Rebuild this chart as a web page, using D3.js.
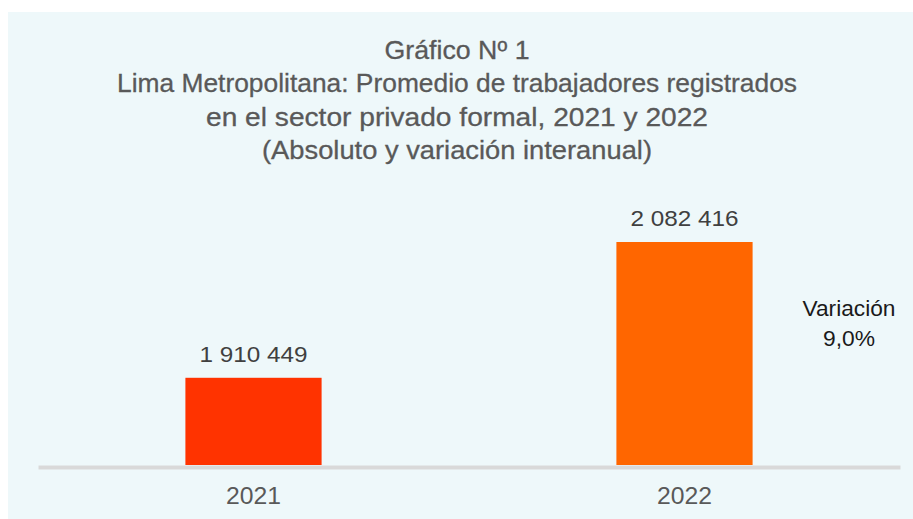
<!DOCTYPE html>
<html>
<head>
<meta charset="utf-8">
<script src="https://cdn.jsdelivr.net/npm/d3@7"></script>
<style>
    html, body { margin: 0; padding: 0; background: #ffffff; }
</style>
</head>
<body>
<script>
// chart data
const years = ['2021', '2022'];
const workers = [1910449, 2082416];
const barColors = ['#ff3300', '#ff6600'];
const titleLines = [
    'Gráfico Nº 1',
    'Lima Metropolitana: Promedio de trabajadores registrados',
    'en el sector privado formal, 2021 y 2022',
    '(Absoluto y variación interanual)'
];
const variationLabel = ['Variación', '9,0%'];
const yDomain = [1800000, 2100000];

const width = 913;
const height = 519;

const svg = d3.select('body')
    .append('svg')
    .attr('width', width)
    .attr('height', height);

function setBackground(svg) {
    svg.append('rect')
        .attr('x', 8)
        .attr('y', 12)
        .attr('width', width - 8)
        .attr('height', height - 12)
        .attr('fill', '#eef8fa');
}

function fmt(v) {
    // thousands separated by a space
    return d3.format(',')(v).replace(/,/g, ' ');
}

// fit a text element to a measured width from the reference
function fitText(sel, w) {
    sel.attr('textLength', w).attr('lengthAdjust', 'spacingAndGlyphs');
}

setBackground(svg);

// title
const titleY = [59, 92, 125.5, 159];
const titleW = [145, 680, 502, 390];
svg.selectAll('.title-line')
    .data(titleLines)
    .enter()
    .append('text')
    .attr('class', 'title-line')
    .attr('x', 457)
    .attr('y', (d, i) => titleY[i])
    .attr('text-anchor', 'middle')
    .style('font-family', 'Liberation Sans, Arial, sans-serif')
    .style('font-size', '26px')
    .attr('fill', '#595959')
    .attr('stroke', '#595959')
    .attr('stroke-width', 0.3)
    .text(d => d)
    .each(function(d, i) { fitText(d3.select(this), titleW[i]); });

const xScale = d3.scaleBand()
    .domain(years)
    .range([38, 900])
    .paddingInner(0.684)
    .paddingOuter(0.342);

const yScale = d3.scaleLinear()
    .domain(yDomain)
    .range([465, 465 - 300000 * 223 / 282416]);

const chart = svg.append('g').attr('id', 'chart-area');

chart.selectAll('.bar')
    .data(years)
    .enter()
    .append('rect')
    .attr('class', 'bar')
    .attr('x', d => xScale(d))
    .attr('y', (d, i) => yScale(workers[i]))
    .attr('width', xScale.bandwidth())
    .attr('height', (d, i) => yScale(yDomain[0]) - yScale(workers[i]))
    .attr('fill', (d, i) => barColors[i]);

// baseline
const xAxis = d3.axisBottom(xScale).tickSize(0).tickPadding(20);
chart.append('g')
    .attr('id', 'x-axis')
    .attr('transform', 'translate(0,467)')
    .call(xAxis);

d3.select('#x-axis .domain')
    .attr('stroke', '#d9d9d9')
    .attr('stroke-width', 4);

d3.selectAll('#x-axis text')
    .style('font-family', 'Liberation Sans, Arial, sans-serif')
    .style('font-size', '24px')
    .attr('fill', '#595959')
    .attr('dy', null)
    .attr('y', 37)
    .each(function() { fitText(d3.select(this), 55); });

// value labels
chart.selectAll('.value-label')
    .data(years)
    .enter()
    .append('text')
    .attr('class', 'value-label')
    .attr('x', d => xScale(d) + xScale.bandwidth() / 2)
    .attr('y', (d, i) => yScale(workers[i]) - 16)
    .attr('text-anchor', 'middle')
    .style('font-family', 'Liberation Sans, Arial, sans-serif')
    .style('font-size', '22px')
    .attr('fill', '#404040')
    .text((d, i) => fmt(workers[i]))
    .each(function() { fitText(d3.select(this), 108); });

// variation note
svg.selectAll('.variation')
    .data(variationLabel)
    .enter()
    .append('text')
    .attr('class', 'variation')
    .attr('x', 849)
    .attr('y', (d, i) => 316 + i * 30)
    .attr('text-anchor', 'middle')
    .style('font-family', 'Liberation Sans, Arial, sans-serif')
    .style('font-size', '22px')
    .attr('fill', '#1a1a1a')
    .text(d => d)
    .each(function(d, i) { fitText(d3.select(this), i == 0 ? 93 : 52); });
</script>
</body>
</html>
